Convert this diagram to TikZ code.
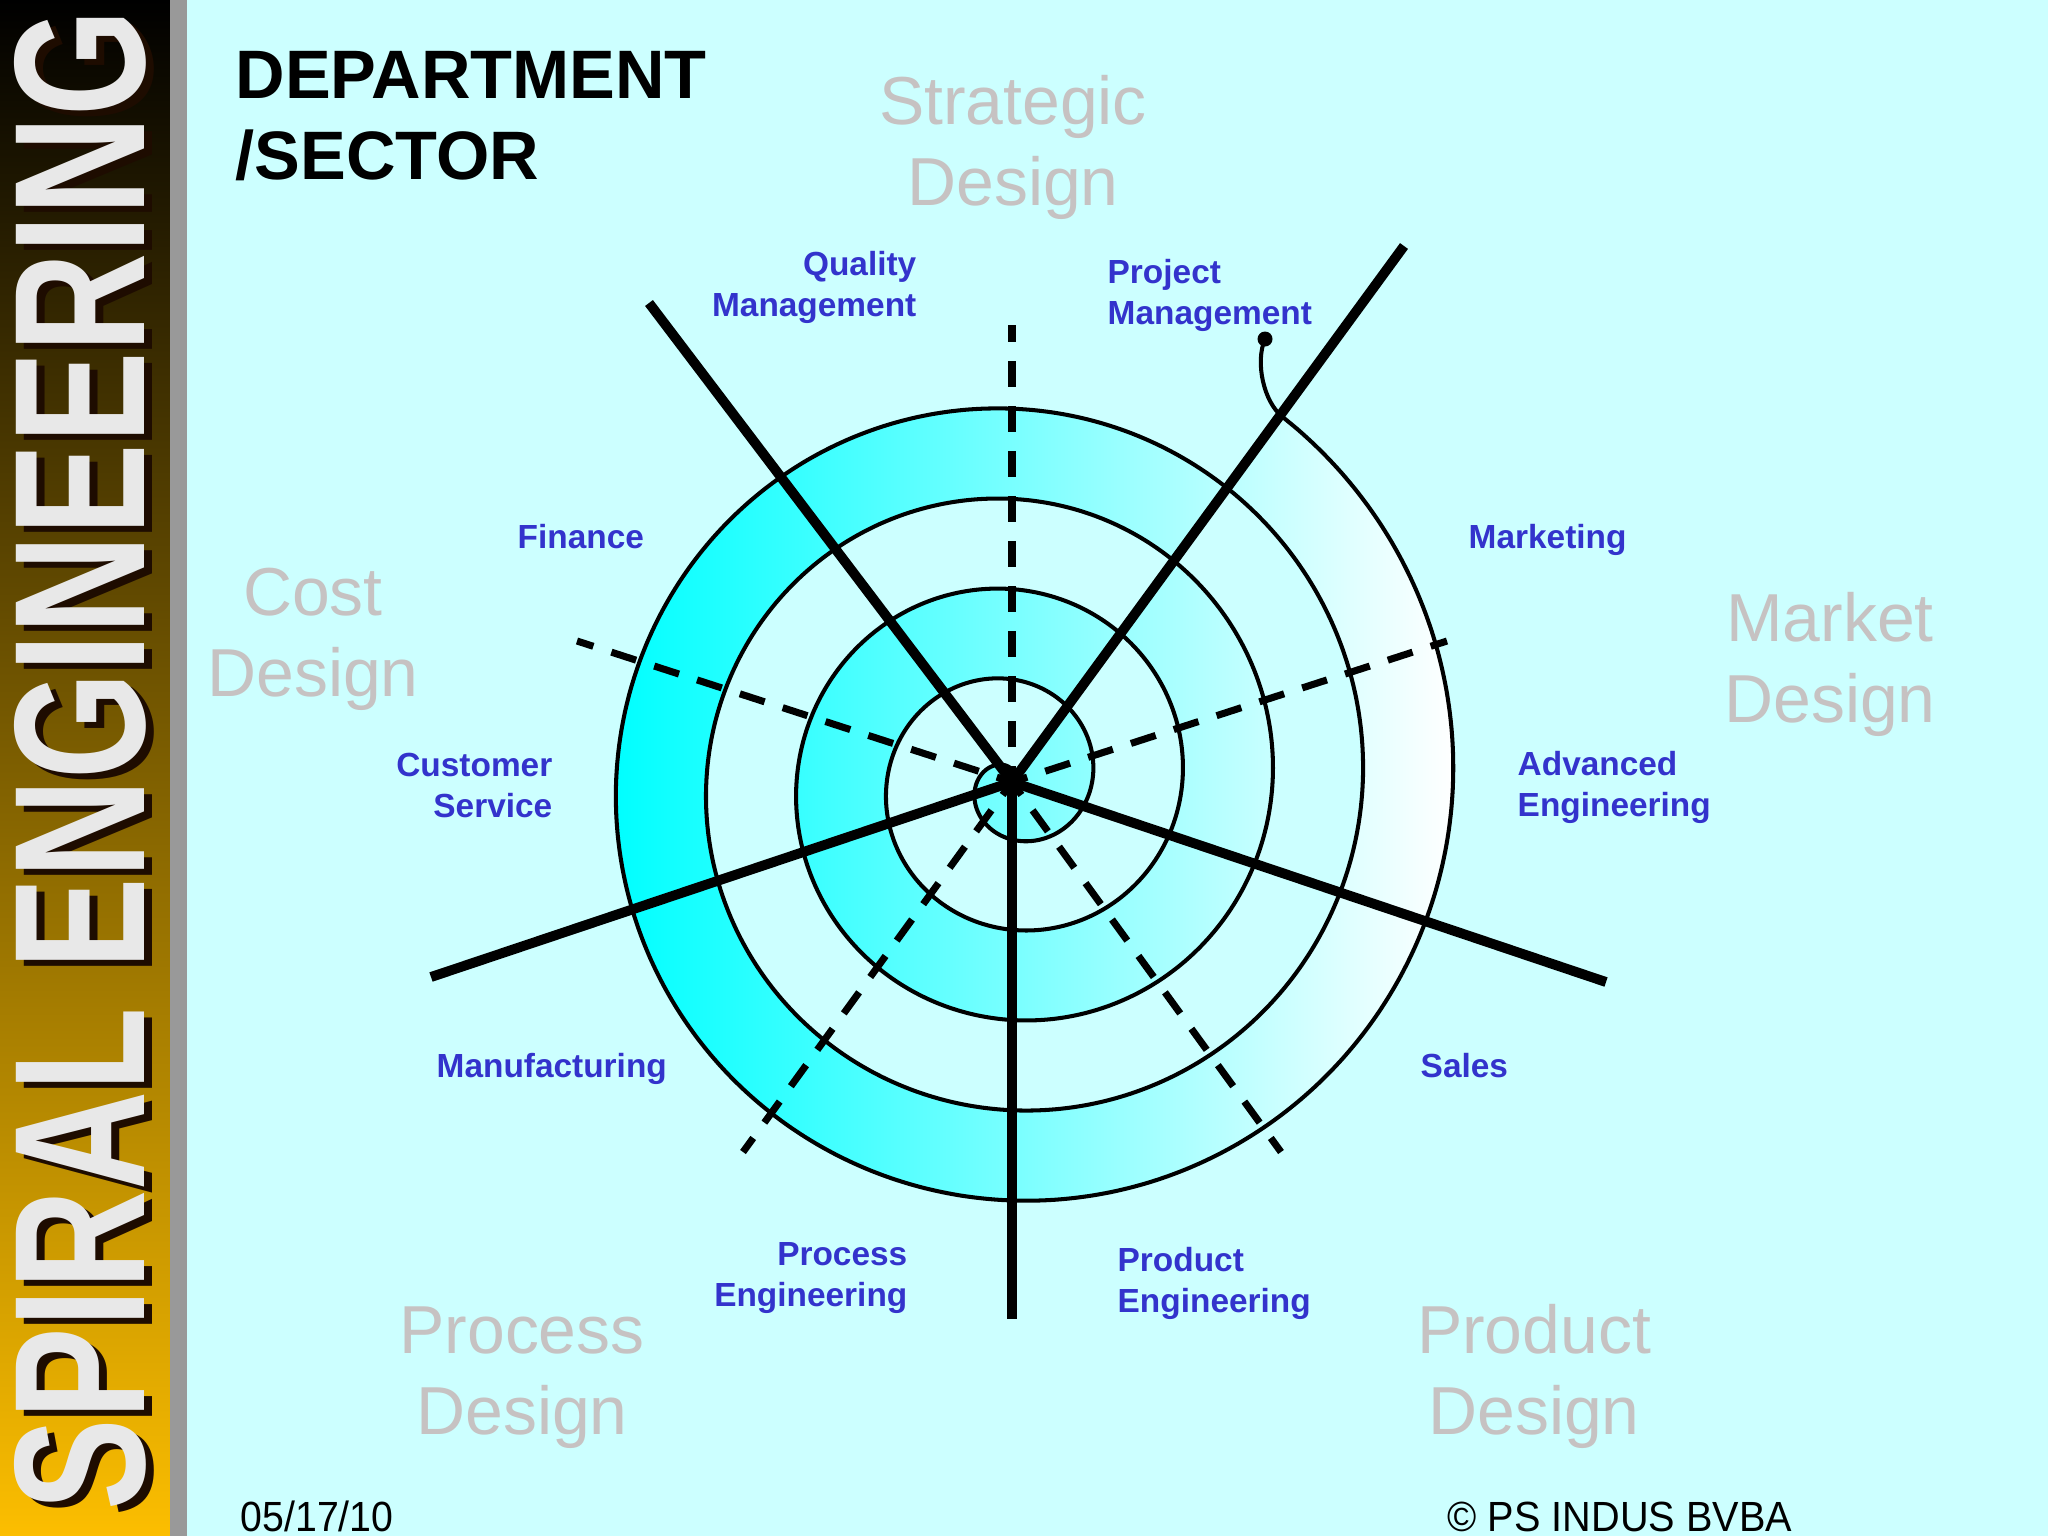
\documentclass[tikz,border=0pt]{standalone}
\usepackage{graphicx}
\usepackage{fontspec}
\setmainfont{Liberation Sans}
\usetikzlibrary{positioning}

\definecolor{slide}{RGB}{204,255,255}
\definecolor{deptblue}{RGB}{51,51,204}
\definecolor{sectorgray}{RGB}{198,194,194}
\definecolor{barlow}{RGB}{252,190,0}
\definecolor{barstripe}{RGB}{153,153,153}
\definecolor{marble}{RGB}{232,232,232}
\definecolor{marbleshadow}{RGB}{30,12,0}

\tikzset{
  dept/.style={font=\fontsize{9.5pt}{11.5pt}\selectfont\bfseries,text=deptblue,inner sep=0pt,align=#1},
  sector/.style={font=\fontsize{19.3pt}{23pt}\selectfont,text=sectorgray,inner sep=0pt,align=center},
  spoke/.style={line width=2.8pt},
  cutline/.style={line width=2pt,dash pattern=on 7.4pt off 5.4pt,dash phase=2.85pt},
  spiralline/.style={line width=1.15pt},
  footline/.style={font=\fontsize{12pt}{14pt}\selectfont,inner sep=0pt}
}

\begin{document}
\begin{tikzpicture}[x=0.01cm,y=-0.01cm]
        \useasboundingbox (0,0) rectangle (2048,1536);

        % slide background and side bar
        \fill[slide] (0,0) rectangle (2048,1536);
        \shade[top color=black,bottom color=barlow] (0,0) rectangle (170,1536);
        \fill[barstripe] (170,0) rectangle (187,1536);
        \node[rotate=90,text=marbleshadow,inner sep=0pt] (sideshade) at (88,766)
            {\resizebox{15.0cm}{1.3cm}{\bfseries SPIRAL ENGINEERING}};
        \node[rotate=90,text=marble,inner sep=0pt] (side) at (80,760)
            {\resizebox{15.0cm}{1.3cm}{\bfseries SPIRAL ENGINEERING}};

        % title (base = last line)
        \node[font=\fontsize{19.5pt}{23pt}\selectfont\bfseries,align=left,inner sep=0pt,anchor=base west]
            (title) at (235,179) {DEPARTMENT\\/SECTOR};

        % spiral band
        \coordinate (hub) at (1012,782);
        \coordinate (tip) at (1265,339);
        \shade[even odd rule,left color=cyan,right color=white]
            plot[domain=0.703:32.358,samples=700,smooth,variable=\t]
            ({1012+(14.36*\t-10.1)*cos(\t r)},{782-(14.36*\t-10.1)*sin(\t r)}) -- cycle;
        \draw[spiralline]
            plot[domain=0.703:32.358,samples=700,smooth,variable=\t]
            ({1012+(14.36*\t-10.1)*cos(\t r)},{782-(14.36*\t-10.1)*sin(\t r)})
            .. controls (1263.5,402) and (1255,362) .. (tip);
        \fill (tip) circle (7.5);

        % dashed spokes
        \coordinate (sdEnd) at (1012,325);
        \coordinate (cdEnd) at (577,641);
        \coordinate (mdEnd) at (1447,641);
        \coordinate (pcEnd) at (743,1152);
        \coordinate (pdEnd) at (1281,1152);
        \draw[cutline] (hub) -- (sdEnd);
        \draw[cutline] (hub) -- (cdEnd);
        \draw[cutline] (hub) -- (mdEnd);
        \draw[cutline] (hub) -- (pcEnd);
        \draw[cutline] (hub) -- (pdEnd);

        % solid spokes
        \coordinate (qmEnd) at (649,303);
        \coordinate (pmEnd) at (1404,246);
        \coordinate (csEnd) at (431,977);
        \coordinate (aeEnd) at (1606,982);
        \coordinate (peEnd) at (1012,1319);
        \draw[spoke] (hub) -- (qmEnd);
        \draw[spoke] (hub) -- (pmEnd);
        \draw[spoke] (hub) -- (csEnd);
        \draw[spoke] (hub) -- (aeEnd);
        \draw[spoke] (hub) -- (peEnd);

        % design sectors
        \node[sector,anchor=base] (strategic) at (1013,205) {Strategic\\Design};
        \node[sector,anchor=base] (cost) at (313,696) {Cost\\Design};
        \node[sector,anchor=base] (market) at (1830,722) {Market\\Design};
        \node[sector,anchor=base] (process) at (522,1434) {Process\\Design};
        \node[sector,anchor=base] (product) at (1534,1434) {Product\\Design};

        % departments
        \node[dept=right,anchor=base east] (quality) at (917,316) {Quality\\Management};
        \node[dept=left,anchor=base west] (project) at (1107,324) {Project\\Management};
        \node[dept=left,anchor=base west] (finance) at (517,548) {Finance};
        \node[dept=left,anchor=base west] (marketing) at (1468,548) {Marketing};
        \node[dept=right,anchor=base east] (customer) at (553,817) {Customer\\Service};
        \node[dept=left,anchor=base west] (advanced) at (1517,816) {Advanced\\Engineering};
        \node[dept=left,anchor=base west] (manufacturing) at (436,1077) {Manufacturing};
        \node[dept=left,anchor=base west] (sales) at (1420,1077) {Sales};
        \node[dept=right,anchor=base east] (processeng) at (908,1306) {Process\\Engineering};
        \node[dept=left,anchor=base west] (producteng) at (1117,1312) {Product\\Engineering};

        % footer
        \node[footline,anchor=base west] (date) at (240,1531) {\scalebox{0.93}[1]{05/17/10}};
        \node[footline,anchor=base west] (copyright) at (1447,1531) {\scalebox{0.94}[1]{\textcopyright{} PS INDUS BVBA}};
\end{tikzpicture}
\end{document}
